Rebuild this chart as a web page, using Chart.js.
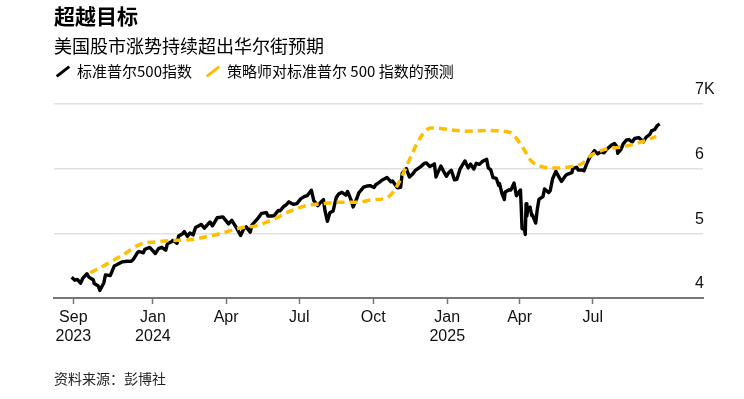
<!DOCTYPE html>
<html><head><meta charset="utf-8">
<script src="https://cdn.jsdelivr.net/npm/chart.js@4/dist/chart.umd.min.js"></script>
<style>
html,body{margin:0;padding:0;background:#fff;width:744px;height:399px;overflow:hidden;}
#wrap{position:relative;width:744px;height:399px;}
canvas{position:absolute;left:0;top:0;}
.t{position:absolute;left:54px;white-space:nowrap;color:#000;font-family:"Noto Sans CJK SC","Noto Sans",sans-serif;}
#title{top:3px;font-size:21px;line-height:24px;font-weight:700;}
#sub{top:34px;font-size:18px;line-height:22px;}
#legend{top:61px;font-size:15px;line-height:20px;}
#source{top:369px;font-size:14px;line-height:18px;color:#222;}
.sw{display:inline-block;width:16px;height:3px;transform:rotate(-38deg);vertical-align:middle;margin:0 6px 0 1px;position:relative;top:-1px;}
</style></head>
<body><div id="wrap">
<canvas id="c" width="744" height="399"></canvas>
<div class="t" id="title">超越目标</div>
<div class="t" id="sub">美国股市涨势持续超出华尔街预期</div>
<div class="t" id="legend"><span class="sw" style="background:#000"></span>标准普尔500指数<span style="display:inline-block;width:12px"></span><span class="sw" style="background:#ffbf00"></span>策略师对标准普尔 500 指数的预测</div>
<div class="t" id="source">资料来源：彭博社</div>
</div>
<script>
// S&P 500 index
const spxDates = ['2023-09-22','2023-09-26','2023-09-29','2023-10-03','2023-10-06','2023-10-11','2023-10-13','2023-10-19','2023-10-20','2023-10-25','2023-10-27','2023-11-01','2023-11-03','2023-11-09','2023-11-14','2023-11-17','2023-11-24','2023-11-30','2023-12-05','2023-12-08','2023-12-13','2023-12-15','2023-12-20','2023-12-22','2023-12-28',
'2024-01-04','2024-01-08','2024-01-12','2024-01-17','2024-01-19','2024-01-24','2024-01-26','2024-01-31','2024-02-02','2024-02-07','2024-02-09','2024-02-13','2024-02-16','2024-02-20','2024-02-23','2024-03-01','2024-03-05','2024-03-08','2024-03-12','2024-03-15','2024-03-21','2024-03-28','2024-04-04','2024-04-08','2024-04-12','2024-04-15','2024-04-19','2024-04-23','2024-04-26','2024-05-01','2024-05-03','2024-05-10','2024-05-15','2024-05-21','2024-05-23','2024-05-29','2024-05-31','2024-06-05','2024-06-07','2024-06-12','2024-06-14','2024-06-18','2024-06-21','2024-06-24','2024-06-28','2024-07-03','2024-07-08','2024-07-11','2024-07-16','2024-07-19','2024-07-24','2024-07-26','2024-07-31','2024-08-02','2024-08-05','2024-08-08','2024-08-12','2024-08-16','2024-08-19','2024-08-23','2024-08-28','2024-08-30','2024-09-03','2024-09-06','2024-09-11','2024-09-13','2024-09-19','2024-09-24','2024-09-27','2024-10-02','2024-10-04','2024-10-09','2024-10-11','2024-10-18','2024-10-23','2024-10-25','2024-10-31','2024-11-04','2024-11-06','2024-11-11','2024-11-15','2024-11-19','2024-11-22','2024-11-29','2024-12-04','2024-12-06','2024-12-10','2024-12-13','2024-12-16','2024-12-18','2024-12-20','2024-12-24','2024-12-27','2024-12-31',
'2025-01-03','2025-01-06','2025-01-10','2025-01-13','2025-01-17','2025-01-23','2025-01-27','2025-01-30','2025-02-03','2025-02-06','2025-02-10','2025-02-14','2025-02-19','2025-02-21','2025-02-24','2025-02-27','2025-03-03','2025-03-06','2025-03-07','2025-03-10','2025-03-13','2025-03-14','2025-03-19','2025-03-21','2025-03-25','2025-03-28','2025-04-02','2025-04-03','2025-04-04','2025-04-07','2025-04-08','2025-04-09','2025-04-10','2025-04-11','2025-04-14','2025-04-16','2025-04-17','2025-04-21','2025-04-23','2025-04-25','2025-04-30','2025-05-02','2025-05-07','2025-05-09','2025-05-12','2025-05-16','2025-05-21','2025-05-23','2025-05-28','2025-05-30','2025-06-05','2025-06-06','2025-06-11','2025-06-13','2025-06-18','2025-06-20','2025-06-24','2025-06-27','2025-07-03','2025-07-07','2025-07-11','2025-07-15','2025-07-18','2025-07-24','2025-07-28','2025-07-31','2025-08-01','2025-08-05','2025-08-08','2025-08-12','2025-08-15','2025-08-19','2025-08-22','2025-08-27','2025-08-29','2025-09-02','2025-09-05','2025-09-10','2025-09-12','2025-09-16','2025-09-19','2025-09-22'];
const spxValues = [4320,4274,4288,4229,4308,4376,4327,4278,4224,4186,4117,4237,4358,4347,4496,4514,4559,4568,4567,4604,4707,4719,4698,4754,4783,
4688,4764,4784,4739,4840,4869,4891,4846,4959,4995,5027,4953,5006,4976,5089,5137,5079,5124,5175,5117,5241,5254,5147,5202,5123,5061,4967,5071,5100,5018,5128,5223,5308,5321,5268,5267,5278,5354,5347,5421,5432,5487,5465,5448,5460,5537,5572,5584,5667,5505,5427,5459,5522,5346,5186,5319,5344,5554,5608,5634,5592,5648,5529,5408,5554,5626,5713,5732,5738,5709,5751,5792,5815,5864,5797,5808,5705,5712,5929,6001,5870,5917,5969,6032,6086,6090,6034,6051,6074,5872,5930,6040,5970,5882,
5942,5975,5827,5836,5997,6119,6012,6071,5994,6083,6066,6115,6144,6013,5983,5861,5849,5739,5770,5615,5522,5639,5675,5668,5777,5581,5671,5396,5074,5062,4982,5457,5268,5363,5406,5275,5283,5158,5376,5525,5569,5686,5631,5660,5844,5958,5845,5803,5889,5912,5939,6000,6022,5977,5981,5967,6092,6173,6279,6230,6260,6244,6297,6363,6390,6339,6238,6299,6389,6446,6450,6412,6467,6481,6460,6416,6482,6532,6584,6606,6664,6693];
// Strategists' S&P 500 forecast
const fcDates = ['2023-10-15','2023-11-04','2023-11-25','2023-12-16','2024-01-06','2024-01-26','2024-02-16','2024-03-08','2024-03-29','2024-04-18','2024-05-09','2024-05-29','2024-06-19','2024-07-10','2024-07-30','2024-08-20','2024-09-10','2024-10-01','2024-10-18','2024-12-12','2025-01-25','2025-02-19','2025-03-20','2025-04-01','2025-04-18','2025-05-17','2025-06-03','2025-06-19','2025-06-27','2025-07-14','2025-08-08','2025-09-01','2025-09-18'];
const fcValues = [4390,4520,4670,4830,4870,4890,4900,4950,5010,5080,5120,5210,5340,5430,5460,5480,5480,5520,5550,6630,6580,6590,6560,6400,6090,6010,6030,6090,6190,6290,6340,6420,6500];
// Axis ticks
const tickDates = ['2023-09-24','2024-01-01','2024-04-01','2024-07-01','2024-10-01','2025-01-01','2025-04-01','2025-07-01'];
const tickLabels = [['Sep','2023'],['Jan','2024'],'Apr','Jul','Oct',['Jan','2025'],'Apr','Jul'];
const yTicks = [4000,5000,6000,7000];
const yTickLabels = ['4','5','6','7K'];
const xRange = ['2023-08-31','2025-11-15'];

const BASE = Date.UTC(2024,0,1);
function dayNum(s){const p=s.split('-').map(Number);return (Date.UTC(p[0],p[1]-1,p[2])-BASE)/86400000;}
const spxPts = spxDates.map((d,i)=>({x:dayNum(d),y:spxValues[i]}));
const fcPts = fcDates.map((d,i)=>({x:dayNum(d),y:fcValues[i]}));
const tickVals = tickDates.map(dayNum);

const yLabelPlugin = {
  id:'yLabels',
  afterDraw(chart){
    const ctx=chart.ctx, ys=chart.scales.y, area=chart.chartArea;
    ctx.save();
    ctx.font='16px "Liberation Sans", Arial, sans-serif';
    ctx.fillStyle='#111';
    ctx.textAlign='left';
    ctx.textBaseline='middle';
    yTicks.forEach((v,i)=>{ctx.fillText(yTickLabels[i], area.right-8, ys.getPixelForValue(v)-14);});
    ctx.restore();
  }
};

new Chart(document.getElementById('c'),{
  type:'line',
  data:{datasets:[
    {label:'标准普尔500指数',data:spxPts,borderColor:'#000',borderWidth:3.4,pointRadius:0,tension:0,borderJoinStyle:'round',order:2},
    {label:'策略师对标准普尔 500 指数的预测',data:fcPts,borderColor:'#ffbf00',borderWidth:3.5,borderDash:[8,5],pointRadius:0,cubicInterpolationMode:'monotone',order:1}
  ]},
  plugins:[yLabelPlugin],
  options:{
    responsive:false,animation:false,
    layout:{padding:{left:54,right:41,top:104,bottom:41}},
    plugins:{legend:{display:false},tooltip:{enabled:false}},
    scales:{
      x:{type:'linear',min:dayNum(xRange[0]),max:dayNum(xRange[1]),
        afterBuildTicks:(s)=>{s.ticks=tickVals.map(v=>({value:v}));},
        afterFit:(s)=>{s.height=60;},
        grid:{drawOnChartArea:false,drawTicks:true,tickLength:6,tickColor:'#777',tickWidth:1.5},
        border:{display:true,color:'#777',width:2},
        ticks:{autoSkip:false,maxRotation:0,padding:4,color:'#111',font:{family:'"Liberation Sans",Arial,sans-serif',size:16,lineHeight:1.2},
          callback:(v,i)=>tickLabels[i]}
      },
      y:{position:'right',min:4000,max:7000,
        afterBuildTicks:(s)=>{s.ticks=yTicks.map(v=>({value:v}));},
        afterFit:(s)=>{s.width=0;},
        grid:{drawTicks:false,color:(c)=>c.tick&&c.tick.value===4000?'rgba(0,0,0,0)':'#e0e0e0',lineWidth:1.5},
        border:{display:false},
        ticks:{display:false}
      }
    }
  }
});
</script>
</body></html>
